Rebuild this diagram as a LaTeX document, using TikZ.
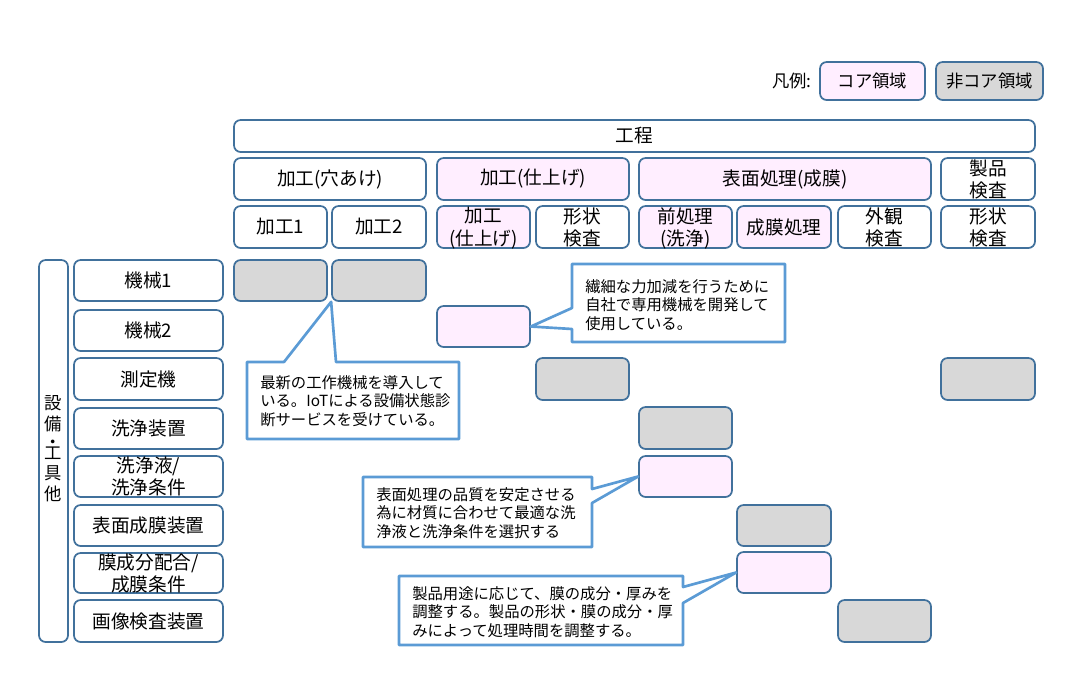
\documentclass[tikz,border=0pt]{standalone}
\usepackage{fontspec}
\setmainfont{Noto Sans CJK JP}
\usetikzlibrary{fit}
\definecolor{boxline}{RGB}{65,113,156}
\definecolor{corefill}{RGB}{255,238,255}
\definecolor{noncorefill}{RGB}{216,216,216}
\definecolor{noteline}{RGB}{91,155,213}
\newcommand{\lblstack}[1]{\begin{tabular}{@{}c@{}}#1\end{tabular}}
\tikzset{
  box/.style={draw=boxline, line width=1.3pt, rounded corners=5pt, inner sep=0pt},
  core/.style={box, fill=corefill},
  noncore/.style={box, fill=noncorefill},
  lbl/.style={inner sep=0pt, font=\fontsize{14}{16.5}\selectfont},
  lbltwo/.style={lbl, yshift=-2pt},
  note/.style={draw=noteline, line width=2pt, fill=white, line join=round},
  notetext/.style={anchor=west, align=left, inner sep=0pt, font=\fontsize{11.5}{14}\selectfont},
}
\begin{document}
\begin{tikzpicture}[x=0.75pt, y=-0.75pt]
  \useasboundingbox (0,0) rectangle (1086,690);
  % legend
  \node[lbl, font=\fontsize{13}{14}\selectfont] (hanrei) at (792,81) {凡例:};
  \node[core, fit={(820,62) (925,100)}] (lgcore) {};
  \node[lbl, font=\fontsize{13}{14}\selectfont] (lgcorel) at (lgcore) {コア領域};
  \node[noncore, fit={(936,62) (1043,100)}] (lgnon) {};
  \node[lbl, font=\fontsize{13}{14}\selectfont] (lgnonl) at (lgnon) {非コア領域};
  % process header
  \node[box, fit={(234,120) (1035,152)}] (kotei) {};
  \node[box, fit={(234,158) (426,200)}] (g1) {};
  \node[core, fit={(437,158) (629,200)}] (g2) {};
  \node[core, fit={(639,158) (931,200)}] (g3) {};
  \node[box, fit={(941,158) (1035,200)}] (g4) {};
  \node[box, fit={(234,206) (327,248)}] (p1) {};
  \node[box, fit={(332,206) (426,248)}] (p2) {};
  \node[core, fit={(437,206) (530,248)}] (p3) {};
  \node[box, fit={(536,206) (629,248)}] (p4) {};
  \node[core, fit={(639,206) (732,248)}] (p5) {};
  \node[core, fit={(737,206) (831,248)}] (p6) {};
  \node[box, fit={(838,206) (931,248)}] (p7) {};
  \node[box, fit={(941,206) (1035,248)}] (p8) {};
  \node[lbl] (koteil) at (kotei) {工程};
  \node[lbl] (g1l) at (g1) {加工(穴あけ)};
  \node[lbl] (g2l) at (g2) {加工(仕上げ)};
  \node[lbl] (g3l) at (g3) {表面処理(成膜)};
  \node[lbltwo] (g4l) at (g4) {\lblstack{製品\\検査}};
  \node[lbl] (p1l) at (p1) {加工1};
  \node[lbl] (p2l) at (p2) {加工2};
  \node[lbltwo] (p3l) at (p3) {\lblstack{加工\\(仕上げ)}};
  \node[lbltwo] (p4l) at (p4) {\lblstack{形状\\検査}};
  \node[lbltwo] (p5l) at (p5) {\lblstack{前処理\\(洗浄)}};
  \node[lbl] (p6l) at (p6) {成膜処理};
  \node[lbltwo] (p7l) at (p7) {\lblstack{外観\\検査}};
  \node[lbltwo] (p8l) at (p8) {\lblstack{形状\\検査}};
  % equipment rows
  \node[box, fit={(39,260) (68,642)}] (setsubi) {};
  \node[lbl, font=\fontsize{13}{15}\selectfont] (setsubil) at (setsubi)
    {\lblstack{設\\備\\[-1.5pt]・\\[-6.5pt]工\\具\\他}};
  \node[box, fit={(74,260) (223,301)}] (r1) {};
  \node[box, fit={(74,310) (223,351)}] (r2) {};
  \node[box, fit={(74,358) (223,400)}] (r3) {};
  \node[box, fit={(74,408) (223,449)}] (r4) {};
  \node[box, fit={(74,456) (223,497)}] (r5) {};
  \node[box, fit={(74,505) (223,546)}] (r6) {};
  \node[box, fit={(74,553) (223,593)}] (r7) {};
  \node[box, fit={(74,600) (223,642)}] (r8) {};
  \node[lbl] (r1l) at (r1) {機械1};
  \node[lbl] (r2l) at (r2) {機械2};
  \node[lbl] (r3l) at (r3) {測定機};
  \node[lbl] (r4l) at (r4) {洗浄装置};
  \node[lbltwo] (r5l) at (r5) {\lblstack{洗浄液/\\洗浄条件}};
  \node[lbl] (r6l) at (r6) {表面成膜装置};
  \node[lbltwo] (r7l) at (r7) {\lblstack{膜成分配合/\\成膜条件}};
  \node[lbl] (r8l) at (r8) {画像検査装置};
  % cells
  \node[noncore, fit={(234,260) (327,301)}] (m1a) {};
  \node[noncore, fit={(332,260) (426,301)}] (m1b) {};
  \node[core, fit={(437,306) (530,347)}] (m2c) {};
  \node[noncore, fit={(536,358) (629,400)}] (m3d) {};
  \node[noncore, fit={(941,358) (1035,400)}] (m3h) {};
  \node[noncore, fit={(639,407) (732,449)}] (m4e) {};
  \node[core, fit={(639,456) (732,497)}] (m5e) {};
  \node[noncore, fit={(737,505) (831,546)}] (m6f) {};
  \node[core, fit={(737,552) (831,593)}] (m7f) {};
  \node[noncore, fit={(838,600) (931,642)}] (m8g) {};
  % callouts
  \draw[note] (247,362) -- (284,362) -- (m1b.south west) -- (336,362) -- (459,362)
    -- (459,439) -- (247,439) -- cycle;
  \node[notetext] (t1) at (260,401) {最新の工作機械を導入して\\いる。IoTによる設備状態診\\断サービスを受けている。};
  \draw[note] (572,264) -- (785,264) -- (785,342) -- (572,342) -- (572,329)
    -- (m2c.east) -- (572,308) -- cycle;
  \node[notetext] (t2) at (585,305) {繊細な力加減を行うために\\自社で専用機械を開発して\\使用している。};
  \draw[note] (363,477) -- (592,477) -- (592,489) -- (m5e.west) -- (592,503)
    -- (592,547) -- (363,547) -- cycle;
  \node[notetext] (t3) at (376,513) {表面処理の品質を安定させる\\為に材質に合わせて最適な洗\\浄液と洗浄条件を選択する};
  \draw[note] (399,576) -- (683,576) -- (683,587) -- (m7f.west) -- (683,603)
    -- (683,645) -- (399,645) -- cycle;
  \node[notetext] (t4) at (412,612) {製品用途に応じて、膜の成分・厚みを\\調整する。製品の形状・膜の成分・厚\\みによって処理時間を調整する。};
\end{tikzpicture}
\end{document}
